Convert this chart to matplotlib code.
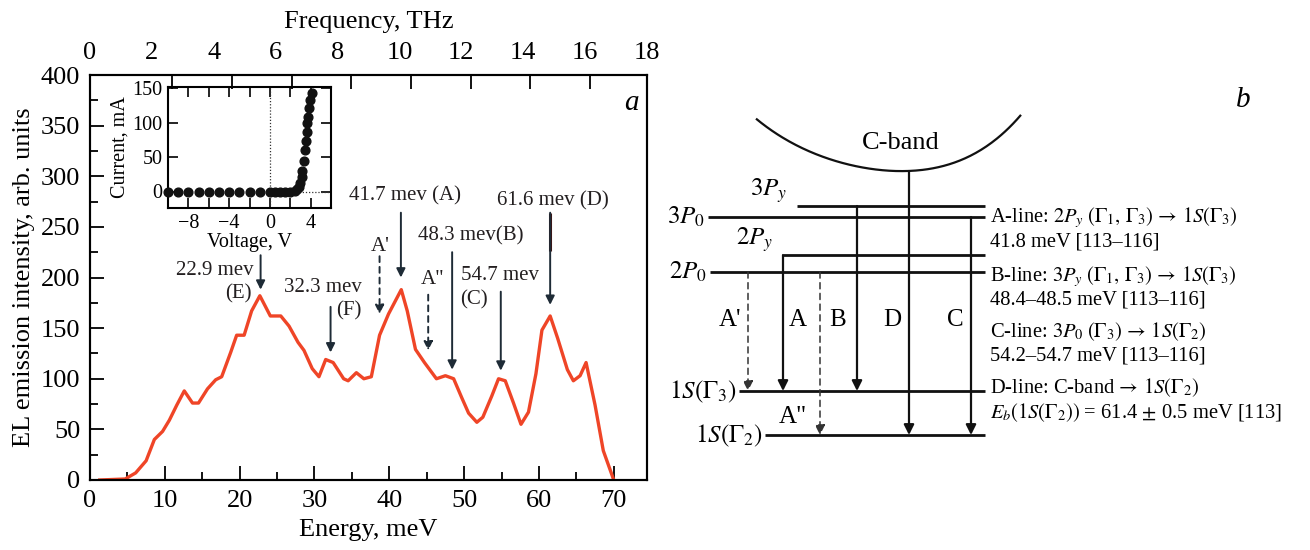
import numpy as np
import matplotlib
matplotlib.use('Agg')
import matplotlib.pyplot as plt
from matplotlib.ticker import MultipleLocator, FixedLocator

plt.rcParams['font.family'] = ['Liberation Serif', 'DejaVu Serif']
plt.rcParams['mathtext.fontset'] = 'stix'
plt.rcParams['axes.linewidth'] = 1.5

# EL spectrum
energy = [1.3, 4.7, 6.1, 7.5, 8.6, 9.7, 10.6, 11.6, 12.6, 13.7, 14.5, 15.7, 16.8, 17.6,
          18.8, 19.6, 20.6, 21.6, 22.7, 24.1, 25.5, 26.6, 27.8, 28.6, 29.7, 30.6, 31.5,
          32.5, 33.9, 34.5, 35.6, 36.6, 37.6, 38.7, 39.9, 41.6, 42.4, 43.5, 44.7, 46.3,
          47.5, 48.6, 49.7, 50.6, 51.7, 52.5, 53.7, 54.6, 55.5, 56.6, 57.6, 58.6, 59.6,
          60.4, 61.5, 62.5, 63.8, 64.6, 65.5, 66.3, 67.5, 68.6, 70.0]
intensity = [0, 1, 7, 19, 40, 48, 59, 74, 88, 76, 76, 90, 99, 102,
             126, 143, 143, 167, 182, 162, 162, 152, 136, 128, 110, 102, 119,
             116, 100, 98, 106, 100, 102, 143, 164, 188, 167, 129, 116, 100,
             103, 100, 81, 66, 57, 62, 83, 100, 98, 76, 55, 67, 105,
             148, 162, 140, 109, 98, 103, 116, 74, 29, 0]

# I-V curve (inset)
voltage = [-10, -9, -8, -7, -6, -5, -4, -3, -2, -1, 0, 0.5, 1.0, 1.5, 2.0, 2.45,
           2.7, 2.85, 3.0, 3.12, 3.2, 3.33, 3.45, 3.55, 3.62, 3.69, 3.76, 3.83, 3.93, 4.1]
current = [0, 0, 0, 0, 0, 0, 0, 0, 0, 0, 0, 0, 0, 0, 0, 0.5,
           3, 7, 13, 21, 30, 45, 60, 73, 86, 100, 109, 121, 133, 143]

# peak markers: arrow x, arrow start, arrow tip, dashed
mark_e = [22.8, 32.15, 38.7, 41.55, 45.2, 48.4, 54.9, 61.5]
mark_top = [222, 171, 221, 264, 183, 225, 186, 264]
mark_tip = [188, 126, 164, 200, 128, 109, 108, 173]
mark_dashed = [False, False, True, False, True, False, False, False]

peak_text = ['22.9 mev', '(E)', '32.3 mev', '(F)', "A'", '41.7 mev (A)', 'A"',
             '48.3 mev(B)', '54.7 mev', '(C)', '61.6 mev (D)']
peak_text_e = [21.9, 21.6, 31.1, 32.9, 38.8, 42.1, 45.8, 50.9, 54.8, 51.35, 61.9]
peak_text_i = [207, 184, 190, 167, 231, 281, 198, 241, 202, 178, 276]
peak_text_ha = ['right', 'right', 'center', 'left', 'center', 'center', 'center',
                'center', 'center', 'center', 'center']

thz_per_mev = 0.241799
freq_labels = [0, 2, 4, 6, 8, 10, 12, 14, 16, 18]
top_ticks = [2.66, 4.59, 6.52, 8.45, 10.38, 12.3, 14.22, 16.15]

# level scheme (panel b), in figure pixels
level_names = ['$3P_y$', '$3P_0$', '$2P_y$', '$2P_0$', r'$1S(\Gamma_3)$', r'$1S(\Gamma_2)$']
level_y = [206, 217, 255, 272, 391, 435]
level_x0 = [797, 708, 783, 710, 739, 765]
level_x1 = 985
trans_x = [748, 783, 820, 857, 909, 971]
trans_from = [272, 255, 272, 206, 171, 217]
trans_to = [391, 391, 435, 391, 435, 435]
trans_dashed = [True, False, True, False, False, False]
trans_lab_x = [730, 798, 838, 892, 955, 793]
trans_lab_y = [320, 320, 320, 320, 320, 417]
trans_lab_txt = ["A'", 'A', 'B', 'D', 'C', 'A"']
band_x = [756, 775, 790, 810, 830, 850, 870, 897, 920, 940, 957, 975, 990, 1005, 1021]
band_y = [119, 132, 142, 152, 159, 165, 169, 171, 170, 166, 162, 154, 144, 131, 115]

notes = [r'A-line: $2P_y\;(\Gamma_1,\,\Gamma_3)\,\rightarrow\, 1S(\Gamma_3)$',
         '41.8 meV [113–116]',
         r'B-line: $3P_y\;(\Gamma_1,\,\Gamma_3)\,\rightarrow\, 1S(\Gamma_3)$',
         '48.4–48.5 meV [113–116]',
         r'C-line: $3P_0\;(\Gamma_3)\,\rightarrow\, 1S(\Gamma_2)$',
         '54.2–54.7 meV [113–116]',
         r'D-line: C-band$\,\rightarrow\, 1S(\Gamma_2)$',
         r'$E_b(1S(\Gamma_2))$ = 61.4$\,\pm\,$0.5 meV [113]']
notes_y = [218, 242, 277, 300, 332, 356, 388, 413]

W, H = 1310, 550
fig = plt.figure(figsize=(W / 100, H / 100), dpi=100)

# ---- panel a ----
ax = fig.add_axes([90 / W, 70 / H, 557 / W, 405 / H])
ax.plot(energy, intensity, color='#ef4527', lw=2.4, solid_joinstyle='round')
ax.set_xlim(0, 18 / thz_per_mev)
ax.set_ylim(0, 400)
ax.xaxis.set_major_locator(MultipleLocator(10))
ax.xaxis.set_minor_locator(MultipleLocator(5))
ax.yaxis.set_major_locator(MultipleLocator(50))
ax.yaxis.set_minor_locator(MultipleLocator(25))
ax.tick_params(which='both', direction='in', labelsize=19, width=1.3, pad=7)
ax.tick_params(which='major', length=10)
ax.tick_params(which='minor', length=6)
ax.set_xlabel('Energy, meV', fontsize=19, labelpad=5)
ax.set_ylabel('EL emission intensity, arb. units', fontsize=19, labelpad=4)

# frequency scale on top: labels only, tick marks drawn separately below
top = ax.twiny()
top.set_xlim(0, 18)
top.set_xticks(freq_labels, labels=[str(v) for v in freq_labels])
top.tick_params(length=0, labelsize=19, pad=8)
top.set_xlabel('Frequency, THz', fontsize=19, labelpad=10)
for f in top_ticks:
    fig.add_artist(plt.Line2D([f / thz_per_mev, f / thz_per_mev], [400, 386],
                              transform=ax.transData, color='black', lw=1.3,
                              solid_capstyle='butt', zorder=50))

arrow_col = '#1e2b36'
for e, y0, y1, d in zip(mark_e, mark_top, mark_tip, mark_dashed):
    ax.annotate('', xy=(e, y1), xytext=(e, y0),
                arrowprops=dict(arrowstyle='-|>', color=arrow_col, lw=1.4,
                                ls=(0, (3, 2.5)) if d else '-',
                                shrinkA=0, shrinkB=0, mutation_scale=13))
# darker upper part of the D marker
ax.plot([mark_e[-1], mark_e[-1]], [mark_top[-1], 226], color='#3b1414', lw=2.2,
        solid_capstyle='butt')
for t, e, i, ha in zip(peak_text, peak_text_e, peak_text_i, peak_text_ha):
    ax.text(e, i, t, ha=ha, va='center', fontsize=15, color='#231f20')
ax.text(72.3, 372, 'a', fontsize=21, style='italic', ha='center', va='center')

# inset: I-V curve
ins = fig.add_axes([168 / W, (H - 208) / H, 163 / W, 121 / H])
ins.plot(voltage, current, 'o', color='#111111', ms=6.3, clip_on=False, zorder=3)
ins.axvline(0, color='#333333', lw=0.9, ls=(0, (1, 1.5)))
ins.plot([2.6, 6], [0, 0], color='#333333', lw=0.9, ls=(0, (1, 1.5)))
ins.set_xlim(-10, 6)
ins.set_ylim(-24, 152)
ins.xaxis.set_major_locator(FixedLocator([-8, -4, 0, 4]))
ins.xaxis.set_minor_locator(FixedLocator([-10, -6, -2, 2, 6]))
ins.yaxis.set_major_locator(FixedLocator([0, 50, 100, 150]))
ins.tick_params(which='both', direction='in', top=True, right=True,
                labelsize=14.5, width=1.2, pad=4)
ins.tick_params(which='major', length=7)
ins.tick_params(which='minor', length=7)
ins.set_xticklabels(['\u22128', '\u22124', '0', '4'])
ins.set_xlabel('Voltage, V', fontsize=14.5, labelpad=0)
ins.set_ylabel('Current, mA', fontsize=14.5, labelpad=2)

# ---- panel b: level scheme ----
axb = fig.add_axes([650 / W, 0, 660 / W, 1])
axb.set_xlim(650, 1310)
axb.set_ylim(H, 0)
axb.axis('off')

# conduction band drawn as a smooth fit through the traced points
coef = np.polyfit(band_x, band_y, 4)
bx = np.linspace(band_x[0], band_x[-1], 200)
axb.plot(bx, np.polyval(coef, bx), color='#111111', lw=1.6, solid_capstyle='butt')
axb.text(901, 143, 'C-band', fontsize=19, ha='center', va='center')

for name, y, x0 in zip(level_names, level_y, level_x0):
    axb.plot([x0, level_x1], [y, y], color='#111111', lw=2.0, solid_capstyle='butt')
    if name in ('$3P_y$', '$2P_y$'):
        axb.text(x0 - 10, y - 10, name, fontsize=18, ha='right', va='baseline')
    else:
        axb.text(x0 - 3, y + 7, name, fontsize=18, ha='right', va='baseline')

for x, y0, y1, d in zip(trans_x, trans_from, trans_to, trans_dashed):
    axb.annotate('', xy=(x, y1), xytext=(x, y0),
                 arrowprops=dict(arrowstyle='-|>', color='#333333' if d else '#111111',
                                 lw=1.1 if d else 1.6,
                                 ls=(0, (4, 3)) if d else '-',
                                 shrinkA=0, shrinkB=0, mutation_scale=15))
for t, x, y in zip(trans_lab_txt, trans_lab_x, trans_lab_y):
    axb.text(x, y, t, fontsize=18, ha='center', va='center')

for t, y in zip(notes, notes_y):
    axb.text(990, y, t, fontsize=14.8, ha='left', va='center')
axb.text(1243, 100, 'b', fontsize=21, style='italic', ha='center', va='center')

fig.savefig('out.png', dpi=100)
